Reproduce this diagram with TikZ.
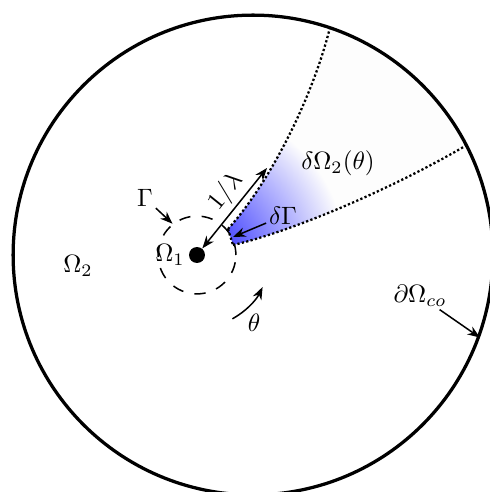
\documentclass[tikz,border=0pt]{standalone}
\usepackage{amsmath, amssymb}
\usepackage{xcolor}
\usepackage{tikz}
\usetikzlibrary{arrows.meta, positioning, calc}

\begin{document}
\begin{tikzpicture}[
    x=0.014cm, y=-0.014cm,
    wall/.style={draw, circle, line width=1.3pt, inner sep=0pt, minimum size=6.72cm},
    hole/.style={draw, circle, dash pattern=on 4.5pt off 4.5pt, semithick, inner sep=0pt, minimum size=1.09cm},
    ray/.style={line width=0.9pt, dash pattern=on 0.9pt off 0.9pt},
    arr/.style={-{Stealth[length=5pt]}, semithick},
    darr/.style={{Stealth[length=5pt]}-{Stealth[length=5pt]}, semithick},
    lab/.style={inner sep=1pt},
]
\useasboundingbox (0,0) rectangle (489,492);

% geometry of the sector
\coordinate (O) at (253,255);
\coordinate (A) at (228,229);
\coordinate (B) at (233,245);
\coordinate (C) at (329.9,27.7);
\coordinate (D) at (466.4,145.3);

% faint sector and its blue shading
\fill[black!0.8] (A) .. controls (268,185) and (312,100) .. (C)
    arc[start angle=-71.3, end angle=-27.2, radius=240]
    .. controls (390,190) and (290,232) .. (B) -- cycle;
\begin{scope}
  \clip (A) .. controls (268,185) and (312,100) .. (C)
    arc[start angle=-71.3, end angle=-27.2, radius=240]
    .. controls (390,190) and (290,232) .. (B) -- cycle;
  \shade[inner color=blue!90, outer color=black!0.8] (197,255) circle[radius=148];
\end{scope}
\draw[ray] (A) .. controls (268,185) and (312,100) .. (C);
\draw[ray] (B) .. controls (290,232) and (390,190) .. (D);
\draw[ray] (A) -- (B);

% boundaries
\node[wall] (outer) at (O) {};
\node[circle, fill, inner sep=0pt, minimum size=0.224cm] (dot) at (197,255) {};
\node[hole] (gamma) at (dot) {};

% labels
\node[left=-2pt of dot] (om1) {$\Omega_1$};
\node (om2) at (78,266) {$\Omega_2$};
\node (dom2) at (338,163) {$\delta\Omega_2(\theta)$};
\node[lab] (glab) at (145,198) {$\Gamma$};
\node[lab] (dglab) at (283,216) {$\delta\Gamma$};
\node[lab] (colab) at (420,296) {$\partial\Omega_{co}$};
\node (th) at (254,323) {$\theta$};
\coordinate (lamtip) at (267,168);
\coordinate (mid) at (233,237);

% arrows
\draw[darr] (dot) -- node[pos=0.57, above, sloped, inner sep=1.5pt] {$1/\lambda$} (lamtip);
\draw[arr] (glab) -- (gamma.128);
\draw[arr] (dglab) -- (mid);
\draw[arr] (colab) -- (outer.-20);
\draw[arr] ([shift={(61:73)}]dot.center) arc[start angle=61, end angle=26, radius=73];

\end{tikzpicture}
\end{document}
